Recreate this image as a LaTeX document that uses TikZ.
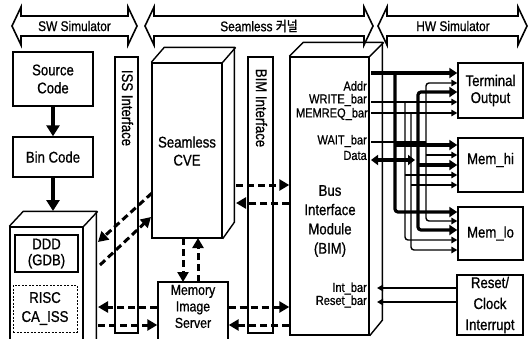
\documentclass[tikz,border=0pt]{standalone}
\usepackage{fontspec}
\setmainfont{Liberation Sans}[FakeStretch=0.85,FakeBold=0.8]
\newfontfamily\kr{Noto Sans CJK KR}[FakeStretch=0.85,FakeBold=0.8]
\usetikzlibrary{arrows.meta}
\begin{document}
\begin{tikzpicture}[x=1pt,y=-1pt,
  line join=miter,
  box/.style={draw, line width=1.4pt, inner sep=0pt, align=center, font=\fontsize{15.5}{17}\selectfont},
  face/.style={draw, line width=1.4pt},
  txt/.style={inner sep=0pt, align=center, font=\fontsize{15.5}{17}\selectfont},
  lbl/.style={inner sep=0pt, anchor=east, font=\fontsize{13}{13}\selectfont},
  bannerline/.style={draw, line width=1.6pt},
  big/.style={line width=3.2pt, -{Triangle[length=11pt,width=13pt]}},
  bus/.style={line width=3.2pt, -{Triangle[length=8pt,width=10pt]}},
  sig/.style={line width=1.4pt, -{Triangle[length=6pt,width=6.5pt]}},
  sigline/.style={line width=1.4pt},
  dsh/.style={line width=3pt, dash pattern=on 7pt off 4pt, -{Triangle[length=10pt,width=11pt]}}
]
\useasboundingbox (0,0) rectangle (529,338);

% ---------- banners ----------
\draw[bannerline] (12,26) -- (21,7) -- (21,16) -- (128,16) -- (128,7) -- (137,26) -- (128,45) -- (128,36) -- (21,36) -- (21,45) -- cycle;
\node[txt, font=\fontsize{14}{17}\selectfont] (swt) at (74.5,26) {SW Simulator};
\draw[bannerline] (145,26) -- (154,7) -- (154,16) -- (364,16) -- (364,7) -- (373,26) -- (364,45) -- (364,36) -- (154,36) -- (154,45) -- cycle;
\node[txt, font=\fontsize{14}{17}\selectfont] (seamt) at (259,26) {Seamless {\kr 커널}};
\draw[bannerline] (378,26) -- (387,7) -- (387,16) -- (518,16) -- (518,7) -- (527,26) -- (518,45) -- (518,36) -- (387,36) -- (387,45) -- cycle;
\node[txt, font=\fontsize{14}{17}\selectfont] (hwt) at (453,26) {HW Simulator};

% ---------- SW side ----------
\node[box, minimum width=80pt, minimum height=54pt, font=\fontsize{15.5}{18}\selectfont] (src) at (53,79) {Source\\Code};
\node[box, minimum width=80pt, minimum height=40pt] (bin) at (53,157) {Bin Code};
\node[box, minimum width=73pt, minimum height=126pt] (ddd) at (46.5,290) {};
\draw[face] (ddd.north west) -- ++(14,-15) coordinate (dddtl) -- ++(73,0) coordinate (dddtr) -- ++(0,130);
\draw[face] (ddd.north east) -- ++(14,-15);
\node[box, minimum width=63pt, minimum height=37pt, font=\fontsize{15.5}{16}\selectfont] (gdb) at (46.5,253.5) {DDD\\(GDB)};
\node[box, dash pattern=on 2pt off 1.5pt, line width=1pt, minimum width=64pt, minimum height=47pt, font=\fontsize{15.5}{19}\selectfont] (risc) at (45,308.5) {RISC\\CA\_ISS};

\draw[big] (src.south) -- (bin.north);
\coordinate (dddtop) at (53,211);
\draw[big] (bin.south) -- (dddtop);

% ---------- interface bars ----------
\node[box, minimum width=23pt, minimum height=276pt] (iss) at (126.5,195) {};
\node[txt, rotate=-90, font=\fontsize{15.5}{17}\selectfont] (isst) at (127.5,108) {ISS Interface};
\node[box, minimum width=25pt, minimum height=276pt] (bimi) at (260.5,195) {};
\node[txt, rotate=-90, font=\fontsize{15.5}{17}\selectfont] (bimit) at (261.5,108) {BIM Interface};

% ---------- Seamless CVE ----------
\node[box, minimum width=70pt, minimum height=175pt] (cve) at (187,150.5) {};
\draw[face] (cve.north west) -- ++(13,-15) -- ++(70,0) -- ++(0,175) -- (cve.south east);
\draw[face] (cve.north east) -- ++(13,-15);
\node[txt, font=\fontsize{15.5}{18}\selectfont] (cvet) at (187,151) {Seamless\\CVE};

% ---------- Memory Image Server ----------
\node[box, minimum width=70pt, minimum height=64pt] (mis) at (193,314) {};
\node[txt, font=\fontsize{14.5}{16.5}\selectfont] (mist) at (193,306.5) {Memory\\Image\\Server};

% ---------- BIM ----------
\node[box, minimum width=79pt, minimum height=278pt] (bim) at (329.5,196) {};
\draw[face] (bim.north west) -- ++(14,-14) -- ++(79,0) -- ++(0,278) -- (bim.south east);
\draw[face] (bim.north east) -- ++(14,-14);
\node[txt, font=\fontsize{15.5}{19.3}\selectfont] (bimt) at (330,221) {Bus\\Interface\\Module\\(BIM)};

\node[lbl] (laddr) at (367,86) {Addr};
\node[lbl] (lwr) at (367,100) {WRITE\_bar};
\node[lbl] (lmr) at (368,114) {MEMREQ\_bar};
\node[lbl] (lwait) at (367,141) {WAIT\_bar};
\node[lbl] (ldata) at (367,155.5) {Data};
\node[lbl] (lint) at (367,288.5) {Int\_bar};
\node[lbl] (lrst) at (367,301.5) {Reset\_bar};

% ---------- HW side ----------
\node[box, minimum width=65pt, minimum height=55pt] (term) at (490.5,90.5) {Terminal\\Output};
\node[box, minimum width=65pt, minimum height=54pt] (mhi) at (490.5,165) {};
\node[txt] (mhit) at (490.5,160) {Mem\_hi};
\node[box, minimum width=65pt, minimum height=53pt] (mlo) at (490.5,233.5) {Mem\_lo};
\node[box, minimum width=66pt, minimum height=60pt, font=\fontsize{15.5}{21}\selectfont] (rst) at (490,305) {Reset/\\Clock\\Interrupt};

% ---------- bus wiring ----------
% Addr
\draw[bus] (371,73) -- (term.west |- 0,73);
\draw[bus, rounded corners=3pt] (395,73) |- (mlo.west |- 0,212);
\draw[bus] (395,145) -- (mhi.west |- 0,145);
% WRITE_bar
\draw[sig] (371,102) -- (term.west |- 0,102);
\draw[sig, rounded corners=3pt] (405,102) |- (mlo.west |- 0,240);
\draw[sig] (405,175) -- (mhi.west |- 0,175);
% MEMREQ_bar
\draw[sig] (371,113) -- (term.west |- 0,113);
\draw[sig, rounded corners=3pt] (411,113) |- (mlo.west |- 0,250);
\draw[sig] (411,185) -- (mhi.west |- 0,185);
% WAIT_bar
\draw[sigline] (371,142) -- (426,142);
\draw[sig, rounded corners=3pt] (426,142) |- (term.west |- 0,83);
\draw[sig, rounded corners=3pt] (426,142) |- (mlo.west |- 0,221);
\draw[sig] (426,155) -- (mhi.west |- 0,155);
% Data
\draw[line width=3.2pt, {Triangle[length=7pt,width=10pt]}-{Triangle[length=7pt,width=10pt]}] (371,160) -- (415,160);
\draw[bus, rounded corners=3pt] (418,160) |- (term.west |- 0,92);
\draw[bus, rounded corners=3pt] (418,160) |- (mlo.west |- 0,230);
\draw[bus] (418,165) -- (mhi.west |- 0,165);
% Int / Reset
\draw[sig] (rst.west |- 0,288) -- (377,288);
\draw[sig] (rst.west |- 0,302) -- (377,302);

% ---------- dashed transfers ----------
\coordinate (dddr1) at (98,242);
\coordinate (dddr2) at (100,265);
\coordinate (dddr3) at (98,307);
\coordinate (dddr4) at (98,325);
\draw[dsh] (152,193) -- (dddr1);
\draw[dsh] (dddr2) -- (151,217);
\draw[dsh] (183,238) -- (183,282);
\draw[dsh] (198,282) -- (198,238);
\draw[dsh] (mis.west |- 0,307) -- (dddr3);
\draw[dsh] (dddr4) -- (mis.west |- 0,325);
\draw[dsh] (mis.east |- 0,307) -- (bim.west |- 0,307);
\draw[dsh] (bim.west |- 0,325) -- (mis.east |- 0,325);
\draw[dsh] (236,185) -- (bim.west |- 0,185);
\draw[dsh] (bim.west |- 0,203) -- (236,203);
\end{tikzpicture}
\end{document}
